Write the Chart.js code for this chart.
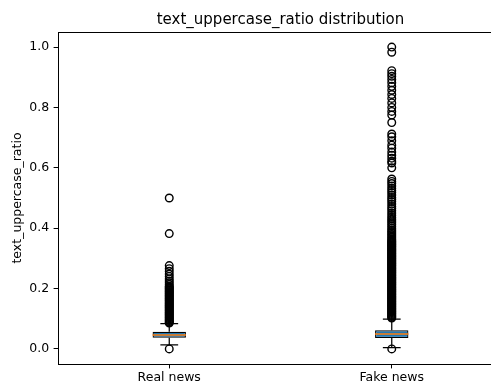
<!DOCTYPE html>
<html>
<head>
<meta charset="utf-8">
<script src="https://cdn.jsdelivr.net/npm/chart.js@4/dist/chart.umd.min.js"></script>
<style>
  html, body { margin: 0; padding: 0; background: #fff; overflow: hidden; }
  #wrap { width: 520px; height: 385px; }
</style>
</head>
<body>
<div id="wrap"><canvas id="box-chart" width="520" height="385"></canvas></div>
<script>
// categories and box statistics
const categories = ["Real news", "Fake news"];
const q1 = [0.037, 0.036];
const medians = [0.046, 0.049];
const q3 = [0.057, 0.062];
const whiskerLow = [0.013, 0.004];
const whiskerHigh = [0.084, 0.099];

// outliers (fliers) for each category
const realOutliers = [0.0, 0.5, 0.382, 0.276, 0.266, 0.257, 0.248, 0.24, 0.232, 0.225, 0.219, 0.213,
  0.208, 0.205, 0.202, 0.199, 0.196, 0.193, 0.19, 0.187, 0.184, 0.181, 0.178, 0.175, 0.172, 0.169,
  0.166, 0.163, 0.16, 0.157, 0.154, 0.151, 0.148, 0.145, 0.142, 0.139, 0.136, 0.133, 0.13, 0.127,
  0.124, 0.121, 0.118, 0.115, 0.112, 0.109, 0.106, 0.103, 0.1, 0.097, 0.094, 0.091, 0.088, 0.086];
const fakeOutliers = [0.0, 1.0, 0.983, 0.922, 0.912, 0.903, 0.893, 0.882, 0.87, 0.857, 0.843, 0.83,
  0.815, 0.8, 0.787, 0.775, 0.75, 0.712, 0.703, 0.69, 0.675, 0.665, 0.652, 0.642, 0.632, 0.622,
  0.616, 0.6, 0.563, 0.555, 0.548, 0.54, 0.532, 0.525, 0.518, 0.51, 0.502, 0.495, 0.488, 0.48,
  0.472, 0.465, 0.458, 0.45, 0.443, 0.436, 0.43, 0.424, 0.418, 0.412, 0.406, 0.4, 0.394, 0.389,
  0.384, 0.379, 0.374, 0.369, 0.364, 0.36, 0.357, 0.354, 0.351, 0.348, 0.345, 0.342, 0.339, 0.336,
  0.333, 0.33, 0.327, 0.324, 0.321, 0.318, 0.315, 0.312, 0.309, 0.306, 0.303, 0.3, 0.297, 0.294,
  0.291, 0.288, 0.285, 0.282, 0.279, 0.276, 0.273, 0.27, 0.267, 0.264, 0.261, 0.258, 0.255, 0.252,
  0.249, 0.246, 0.243, 0.24, 0.237, 0.234, 0.231, 0.228, 0.225, 0.222, 0.219, 0.216, 0.213, 0.21,
  0.207, 0.204, 0.201, 0.198, 0.195, 0.192, 0.189, 0.186, 0.183, 0.18, 0.177, 0.174, 0.171, 0.168,
  0.165, 0.162, 0.159, 0.156, 0.153, 0.15, 0.147, 0.144, 0.141, 0.138, 0.135, 0.132, 0.129, 0.126,
  0.123, 0.12, 0.117, 0.114, 0.111, 0.108, 0.105, 0.102];
const outliers = [realOutliers, fakeOutliers];

const yTicks = [0.0, 0.2, 0.4, 0.6, 0.8, 1.0];

// styling
const FONT = "'DejaVu Sans', sans-serif";
const BOX_HALF = 0.075;
const CAP_HALF = 0.04;
const LW = 1.25;

const whiskerPts = [];
const medianPts = [];
categories.forEach((c, i) => {
  const x = i + 1;
  whiskerPts.push({ x: x, y: q3[i] }, { x: x, y: whiskerHigh[i] }, { x: x, y: null });
  whiskerPts.push({ x: x, y: q1[i] }, { x: x, y: whiskerLow[i] }, { x: x, y: null });
  whiskerPts.push({ x: x - CAP_HALF, y: whiskerHigh[i] }, { x: x + CAP_HALF, y: whiskerHigh[i] }, { x: x, y: null });
  whiskerPts.push({ x: x - CAP_HALF, y: whiskerLow[i] }, { x: x + CAP_HALF, y: whiskerLow[i] }, { x: x, y: null });
  medianPts.push({ x: x - BOX_HALF, y: medians[i] }, { x: x + BOX_HALF, y: medians[i] }, { x: x, y: null });
});
const boxes = categories.map((c, i) => ({ x: i + 1, y: [q1[i], q3[i]] }));
const fliers = [];
outliers.forEach((list, i) => list.forEach(v => fliers.push({ x: i + 1, y: v })));

const frame = {
  id: 'frame',
  afterDatasetsDraw(chart) {
    const { ctx, chartArea: a } = chart;
    ctx.save();
    ctx.strokeStyle = '#000';
    ctx.lineWidth = 1;
    ctx.beginPath();
    ctx.moveTo(a.left, a.top + 0.5);
    ctx.lineTo(a.right, a.top + 0.5);
    ctx.stroke();
    ctx.restore();
  }
};

new Chart(document.getElementById("box-chart"), {
  data: {
    datasets: [{
        type: 'line',
        data: whiskerPts,
        borderColor: '#000',
        borderWidth: LW,
        pointRadius: 0,
        spanGaps: false,
        order: 3
      }, {
        type: 'bar',
        data: boxes,
        backgroundColor: '#1f77b4',
        borderColor: '#000',
        borderWidth: LW,
        borderSkipped: false,
        categoryPercentage: 1,
        barPercentage: 2 * BOX_HALF,
        order: 2
      }, {
        type: 'line',
        data: medianPts,
        borderColor: '#ff7f0e',
        borderWidth: LW * 1.2,
        pointRadius: 0,
        spanGaps: false,
        order: 1
      }, {
        type: 'scatter',
        data: fliers,
        pointStyle: 'circle',
        pointRadius: 3.8,
        borderWidth: 1.4,
        borderColor: '#000',
        backgroundColor: 'rgba(0,0,0,0)',
        order: 0
      }
    ]
  },
  options: {
    responsive: false,
    animation: false,
    layout: { padding: { left: 0, right: 17, top: 0, bottom: 0 } },
    plugins: {
      legend: { display: false },
      tooltip: { enabled: false },
      title: {
        display: true,
        text: 'text_uppercase_ratio distribution',
        color: '#000',
        fullSize: false,
        font: { family: FONT, size: 15, weight: 'normal' },
        padding: { top: 11, bottom: 3 }
      }
    },
    scales: {
      x: {
        type: 'linear',
        min: 0.5,
        max: 2.5,
        offset: false,
        afterBuildTicks: axis => { axis.ticks = categories.map((c, i) => ({ value: i + 1 })); },
        afterFit: axis => { axis.height = 21; },
        grid: { drawOnChartArea: false, offset: false, tickLength: 4.4, color: '#000', tickWidth: 1 },
        border: { color: '#000', width: 1 },
        ticks: {
          color: '#000',
          padding: 2,
          font: { family: FONT, size: 12.5 },
          callback: v => categories[Math.round(v) - 1]
        }
      },
      y: {
        min: -0.05,
        max: 1.05,
        afterBuildTicks: axis => { axis.ticks = yTicks.map(v => ({ value: v })); },
        afterFit: axis => { axis.width = 58; },
        grid: { drawOnChartArea: false, tickLength: 4.4, color: '#000', tickWidth: 1 },
        border: { color: '#000', width: 1 },
        ticks: {
          color: '#000',
          padding: 4.4,
          font: { family: FONT, size: 12.5 },
          callback: v => v.toFixed(1)
        },
        title: {
          display: true,
          text: 'text_uppercase_ratio',
          color: '#000',
          font: { family: FONT, size: 12.5 },
          padding: { top: 10.5 }
        }
      }
    }
  },
  plugins: [frame]
});
</script>
</body>
</html>
